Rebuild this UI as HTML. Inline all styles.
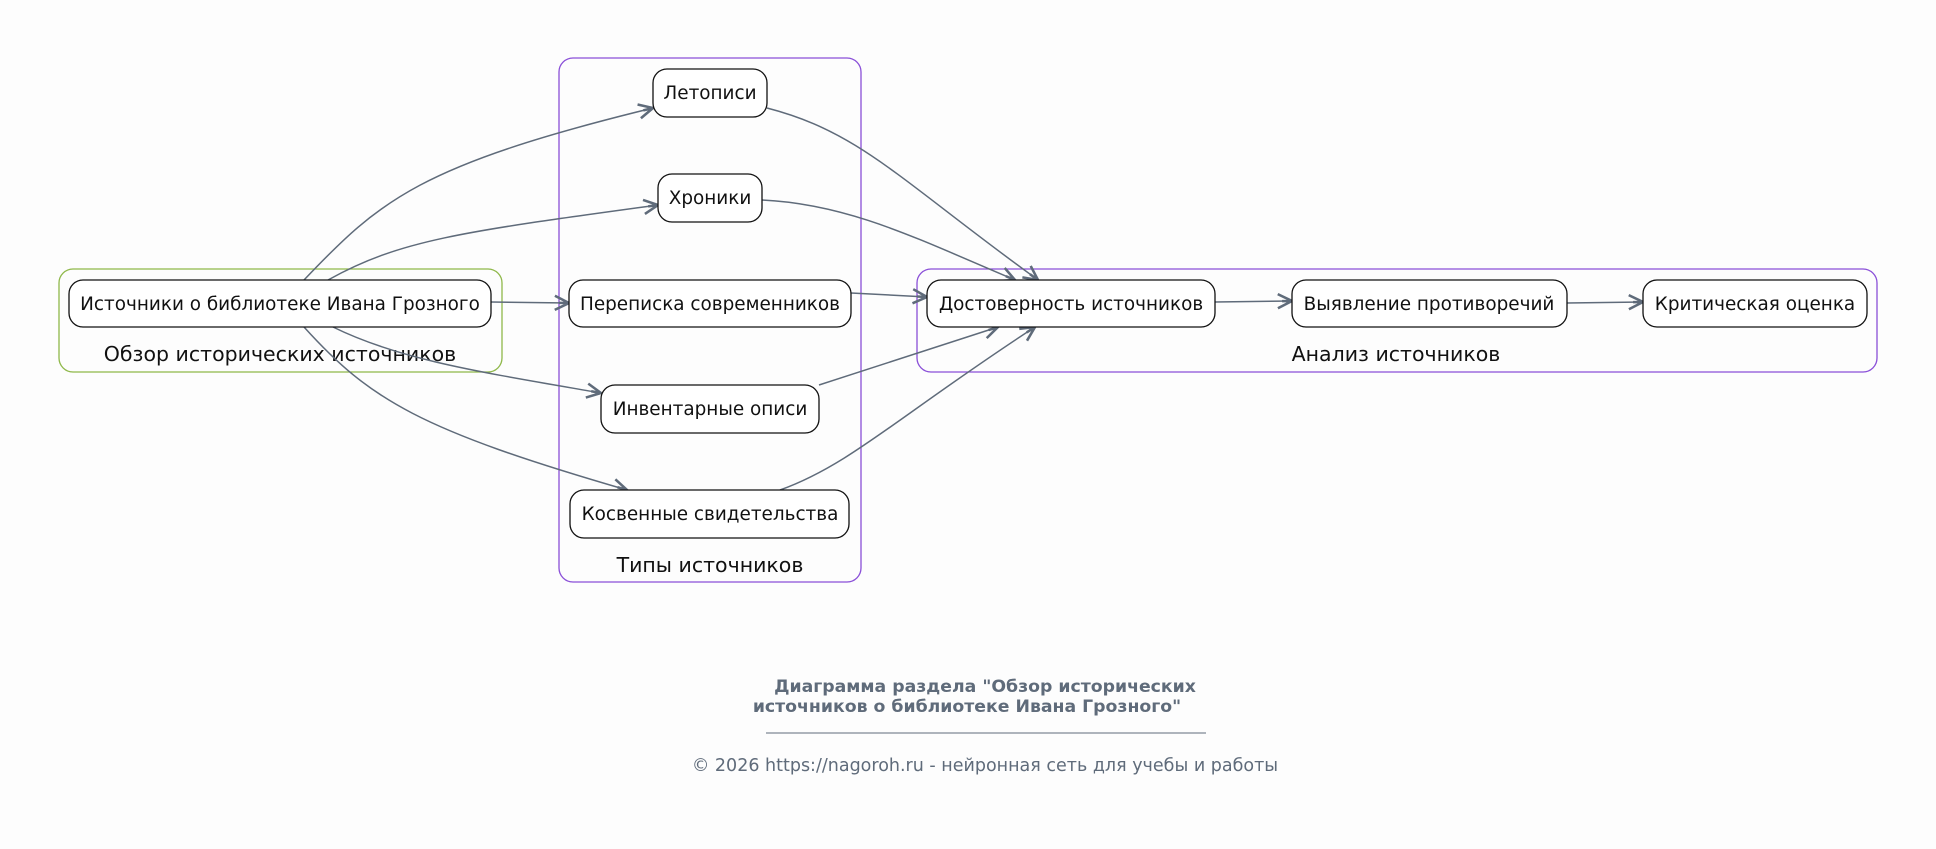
<!DOCTYPE html>
<html><head><meta charset="utf-8"><style>
html,body{margin:0;padding:0;background:#fdfdfd;}
svg{display:block;font-family:"DejaVu Sans","Liberation Sans",sans-serif;}
</style></head><body>
<svg width="1936" height="849" viewBox="0 0 1936 849" xmlns="http://www.w3.org/2000/svg">
<defs>
<marker id="a" viewBox="0 0 12 12" refX="11" refY="6" markerWidth="17" markerHeight="17" markerUnits="userSpaceOnUse" orient="auto">
<path d="M1,1 L11,6 L1,11 M11,6 L4,6" fill="none" stroke="#5f6b7a" stroke-width="1.8"/>
</marker>
</defs>
<rect width="1936" height="849" fill="#fdfdfd"/>
<rect x="59" y="269" width="443" height="103" rx="14" fill="none" stroke="#8fb84a" stroke-width="1.3"/>
<rect x="559" y="58" width="302" height="524" rx="14" fill="none" stroke="#8a4fd8" stroke-width="1.3"/>
<rect x="917" y="269" width="960" height="103" rx="14" fill="none" stroke="#8a4fd8" stroke-width="1.3"/>
<g font-size="20.5" fill="#111" text-anchor="middle">
<text x="280" y="361">Обзор исторических источников</text>
<text x="710" y="572">Типы источников</text>
<text x="1396" y="361">Анализ источников</text>
</g>
<g fill="none" stroke="#5f6b7a" stroke-width="1.5" marker-end="url(#a)">
<path d="M304,280 C380,200 420,165 653,108"/>
<path d="M328,280 C400,240 460,232 658,205"/>
<path d="M491,302 L569,303"/>
<path d="M333,327 C400,360 480,372 601,393"/>
<path d="M304,327 C370,400 420,430 627,490"/>
<path d="M767,108 C860,132 900,180 1038,280"/>
<path d="M762,200 C850,204 920,240 1015,280"/>
<path d="M851,293 L927,297"/>
<path d="M819,385 L998,327"/>
<path d="M780,490 C850,465 900,415 1035,327"/>
<path d="M1215,302 L1292,301"/>
<path d="M1567,303 L1643,302"/>
</g>
<g fill="#fff" stroke="#111" stroke-width="1.3">
<rect x="69" y="280" width="422" height="47" rx="14"/>
<rect x="653" y="69" width="114" height="48" rx="14"/>
<rect x="658" y="174" width="104" height="48" rx="14"/>
<rect x="569" y="280" width="282" height="47" rx="14"/>
<rect x="601" y="385" width="218" height="48" rx="14"/>
<rect x="570" y="490" width="279" height="48" rx="14"/>
<rect x="927" y="280" width="288" height="47" rx="14"/>
<rect x="1292" y="280" width="275" height="47" rx="14"/>
<rect x="1643" y="280" width="224" height="47" rx="14"/>
</g>
<g font-size="18.4" fill="#111" text-anchor="middle">
<text x="280" y="310">Источники о библиотеке Ивана Грозного</text>
<text x="710" y="99">Летописи</text>
<text x="710" y="204">Хроники</text>
<text x="710" y="310">Переписка современников</text>
<text x="710" y="415">Инвентарные описи</text>
<text x="710" y="520">Косвенные свидетельства</text>
<text x="1071" y="310">Достоверность источников</text>
<text x="1429" y="310">Выявление противоречий</text>
<text x="1755" y="310">Критическая оценка</text>
</g>
<g fill="#5f6b7a" text-anchor="middle">
<text x="985" y="692" font-size="17.3" font-weight="bold">Диаграмма раздела "Обзор исторических</text>
<text x="967" y="712" font-size="17.3" font-weight="bold">источников о библиотеке Ивана Грозного"</text>
<line x1="766" y1="733" x2="1206" y2="733" stroke="#5f6b7a" stroke-width="1"/>
<text x="985" y="771" font-size="17.5">© 2026 https://nagoroh.ru - нейронная сеть для учебы и работы</text>
</g>
</svg>
</body></html>
